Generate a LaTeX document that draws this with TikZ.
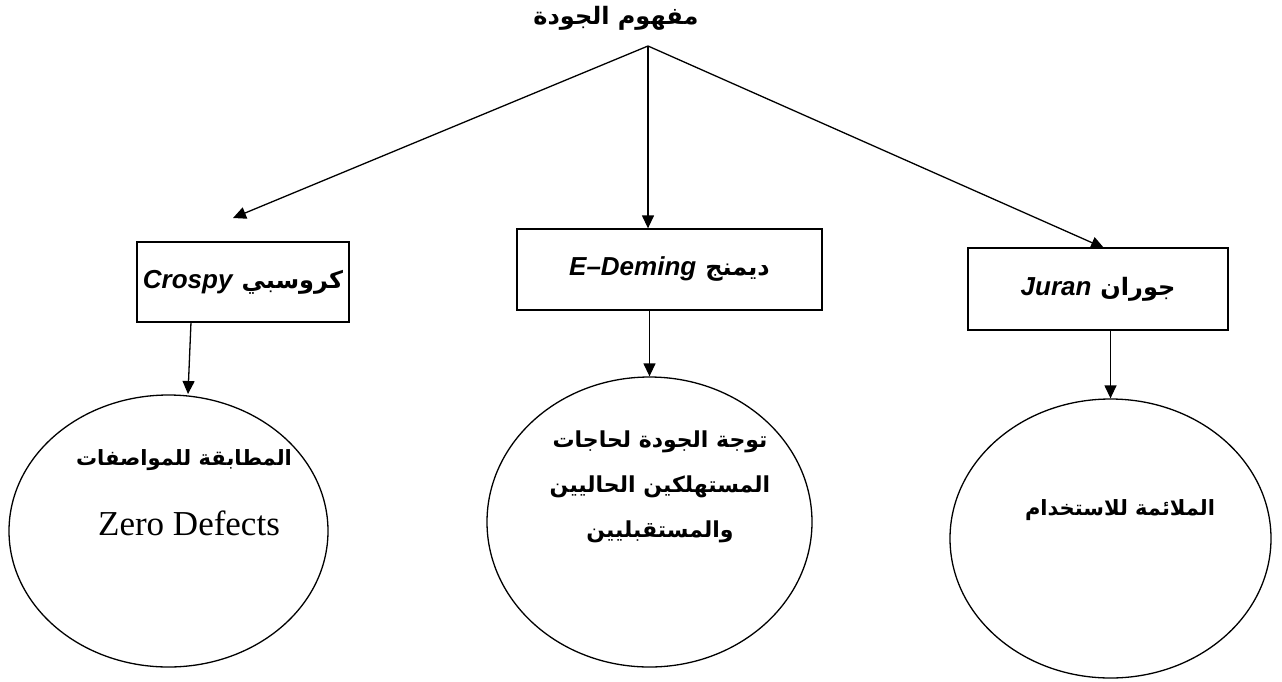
\documentclass[tikz,border=0pt]{standalone}
\usepackage{fontspec}
\usetikzlibrary{arrows.meta,shapes.geometric,calc}
\TeXXeTstate=1
\newfontfamily\arabicfont[Script=Arabic]{DejaVu Sans}
\newfontfamily\arialfont{Liberation Sans}
\newfontfamily\timesfont{Liberation Serif}
% a box label: Latin name on the left, Arabic name on the right
\newcommand{\boxlabel}[2]{{\arialfont\bfseries\itshape\fontsize{26}{30}\selectfont #1}\hspace{9pt}{\arabicfont\bfseries\fontsize{24}{30}\selectfont\beginR #2\endR}}
\tikzset{
  conn/.style={line width=1.3pt,-{Triangle[length=13pt,width=12pt]}},
  labelbox/.style={draw,line width=1.3pt,rectangle,inner sep=0pt},
  oval/.style={draw,line width=1.3pt,ellipse,inner sep=0pt},
  artext/.style={font=\arabicfont\bfseries\fontsize{21}{45}\selectfont,inner sep=0pt,align=center},
}
\begin{document}
\begin{tikzpicture}[x=1pt,y=-1pt]
\useasboundingbox[fill=white] (0,0) rectangle (1282,681);

% heading and the point the three branches leave from
\node[artext,font=\arabicfont\bfseries\fontsize{24}{28}\selectfont] (title) at (616,18) {\beginR مفهوم الجودة\endR};
\coordinate (apex) at (648,46);

% the three approaches
\node[labelbox,minimum width=212pt,minimum height=80pt] (crospy) at (243,282)
  {\boxlabel{Crospy}{كروسبي}};
\node[labelbox,minimum width=305pt,minimum height=81pt] (deming) at (669.5,269.5)
  {\boxlabel{E–Deming}{ديمنج}};
\node[labelbox,minimum width=260pt,minimum height=82pt] (juran) at (1098,289)
  {\boxlabel{Juran}{جوران}};

% the definition each one gives
\node[oval,minimum width=319pt,minimum height=272pt] (e1) at (168.5,531) {};
\node[oval,minimum width=325pt,minimum height=290pt] (e2) at (649.5,522) {};
\node[oval,minimum width=321pt,minimum height=279pt] (e3) at (1110.5,538.5) {};

\node[artext] (t1a) at (184,460) {\beginR المطابقة للمواصفات\endR};
\node[font=\timesfont\fontsize{35}{40}\selectfont,inner sep=0pt] (t1b) at (189,523) {Zero Defects};
\node[artext,font=\arabicfont\bfseries\fontsize{22}{45}\selectfont] (t2) at (660,487) {\beginR توجة الجودة لحاجات\endR\\ \beginR المستهلكين الحاليين\endR\\ \beginR والمستقبليين\endR};
\node[artext] (t3) at (1120,510) {\beginR الملائمة للاستخدام\endR};

% connectors
\coordinate (lefttip) at (233,218);
\coordinate (righttip) at (1104,248);
\draw[conn] (apex) -- (lefttip);
\draw[conn] (apex) -- (deming.north -| apex);
\draw[conn] (apex) -- (righttip);

\coordinate (c1) at (191,322);
\coordinate (c1tip) at (188,394);
\draw[conn] (c1) -- (c1tip);
\draw[conn] (deming.south -| e2.north) -- (e2.north);
\draw[conn] (juran.south -| e3.north) -- (e3.north);
\end{tikzpicture}
\end{document}
